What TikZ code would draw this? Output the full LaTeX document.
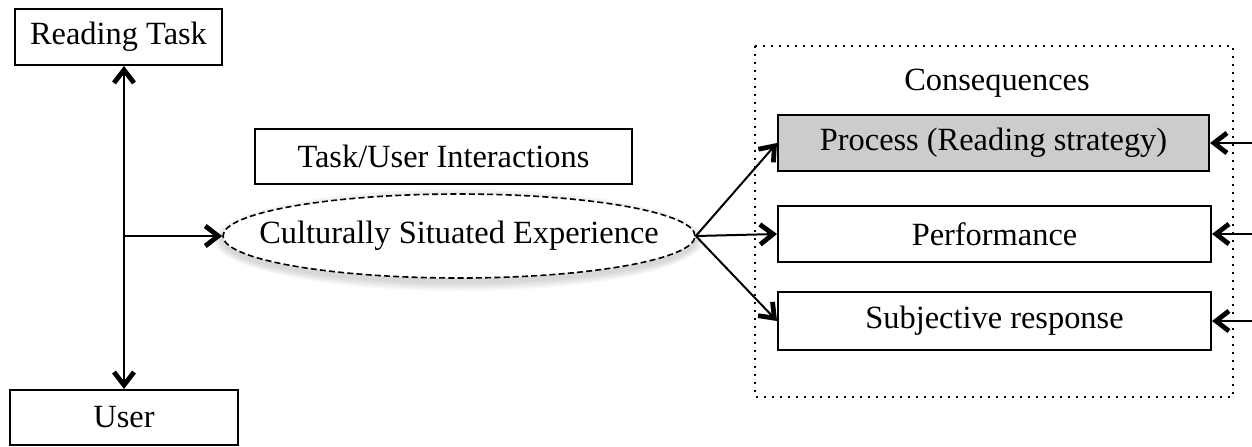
\documentclass[tikz,border=0pt]{standalone}
\usepackage{fontspec}
\setmainfont{Liberation Serif}
\usetikzlibrary{arrows.meta,shapes.geometric}
\begin{document}
\begin{tikzpicture}[x=0.5pt,y=-0.5pt,
  every node/.style={font=\fontsize{16.2}{19}\selectfont},
  box/.style={draw, line width=1pt, rectangle, inner sep=0pt},
  tip/.tip={Straight Barb[length=6.5pt,width=10pt,line width=2.4pt]},
  conn/.style={line width=1pt, -tip},
  bconn/.style={line width=1pt, tip-tip}
]
\useasboundingbox (0,0) rectangle (1252,446);
% boxes
\node[box, minimum width=103.5pt, minimum height=28pt] (rt) at (118.5,37) {Reading Task};
\node[box, minimum width=114pt, minimum height=27.5pt] (user) at (124,417.5) {User};
\node[box, minimum width=188.5pt, minimum height=27.5pt] (tui) at (443.5,156.5) {Task/User Interactions};
% shadow of ellipse
\foreach \i in {1,...,7}{
  \fill[black, opacity=0.022] (459,240) ellipse ({236+\i*1.3} and {42+\i*1.3});
}
\node[ellipse, draw, dash pattern=on 3pt off 1.6pt, line width=0.8pt, fill=white, minimum width=236pt, minimum height=42pt, inner sep=0pt] (ell) at (459,236) {};
\node (ellt) at (ell.center) {Culturally Situated Experience};
% consequences
\draw[line width=1pt, dash pattern=on 1pt off 3pt] (755,46) rectangle (1233,397);
\node (cons) at (997,83) {Consequences};
\node[box, fill={rgb,255:red,204;green,204;blue,204}, minimum width=215.5pt, minimum height=28pt] (proc) at (993.5,143) {Process (Reading strategy)};
\node[box, minimum width=216.5pt, minimum height=28pt] (perf) at (994.5,234) {Performance};
\node[box, minimum width=216.5pt, minimum height=29pt] (subj) at (994.5,321) {Subjective response};
% connectors
\coordinate (v) at (124,236);
\draw[bconn] (rt.south -| v) -- (user.north -| v);
\draw[conn] (v) -- (ell.west);
\draw[conn] (ell.east) -- (proc.west);
\draw[conn] (ell.east) -- (perf.west);
\draw[conn] (ell.east) -- (subj.west);
\coordinate (r1) at (1252,143);
\coordinate (r2) at (1252,234);
\coordinate (r3) at (1252,321);
\draw[conn] (r1) -- (proc.east);
\draw[conn] (r2) -- (perf.east);
\draw[conn] (r3) -- (subj.east);
\end{tikzpicture}
\end{document}
